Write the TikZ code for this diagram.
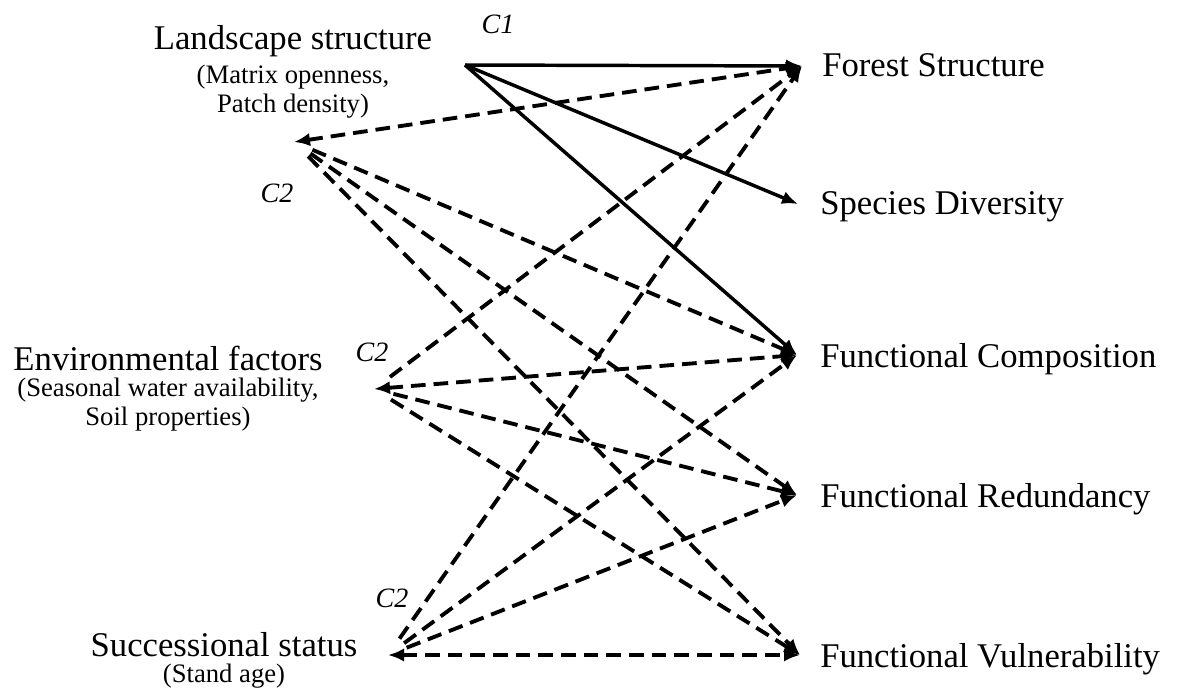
\documentclass[tikz,border=0pt]{standalone}
\usepackage{fontspec}
\setmainfont{Liberation Serif}
\usetikzlibrary{arrows.meta,positioning}
\tikzset{
  hd/.style={font=\fontsize{26}{30}\selectfont,inner sep=0pt},
  subtxt/.style={font=\fontsize{20}{22}\selectfont,align=center,inner sep=0pt},
  clbl/.style={font=\fontsize{21}{24}\selectfont\itshape,inner sep=0pt},
  eff/.style={-{Latex[length=12pt,width=10pt]},line width=2.6pt},
  dep/.style={-{Latex[length=12pt,width=10pt]},line width=2.9pt,dash pattern=on 11pt off 6pt},
  bdep/.style={{Latex[length=12pt,width=10pt]}-{Latex[length=12pt,width=10pt]},line width=2.9pt,dash pattern=on 11pt off 6pt},
}

\begin{document}
\begin{tikzpicture}[x=0.75pt,y=-0.75pt]
  \useasboundingbox (0,0) rectangle (1178,695);
  % arrow end points
  \coordinate (c1) at (465,65);
  \coordinate (ls) at (294,142);
  \coordinate (env) at (374,389);
  \coordinate (suc) at (388,655);
  \coordinate (fs) at (802,66);
  \coordinate (sd) at (798,204);
  \coordinate (fc) at (797,355);
  \coordinate (fr) at (797,495);
  \coordinate (fv) at (800,655);
  % predictors
  \node[hd,anchor=base] (lsL) at (293,50) {Landscape structure};
  \node[subtxt,below=5pt of lsL] (lsS) {(Matrix openness,\\Patch density)};
  \node[hd,anchor=base] (envL) at (168,370) {Environmental factors};
  \node[subtxt,below=5pt of envL] (envS) {(Seasonal water availability,\\Soil properties)};
  \node[hd,anchor=base] (sucL) at (224,656) {Successional status};
  \node[subtxt,below=5pt of sucL] (sucS) {(Stand age)};
  % responses
  \node[hd,anchor=base west] (fsL) at (822,77) {Forest Structure};
  \node[hd,anchor=base west] (sdL) at (820,215) {Species Diversity};
  \node[hd,anchor=base west] (fcL) at (820,367) {Functional Composition};
  \node[hd,anchor=base west] (frL) at (820,507) {Functional Redundancy};
  \node[hd,anchor=base west] (fvL) at (820,667) {Functional Vulnerability};
  % paths
  \node[clbl] (c1L) at (498,24) {C1};
  \node[clbl] (c2a) at (277,193) {C2};
  \node[clbl] (c2b) at (372,352) {C2};
  \node[clbl] (c2c) at (392,598) {C2};
  \foreach \t in {fs,sd,fc}{\draw[eff] (c1) -- (\t);}
  \draw[bdep] (ls) -- (fs);
  \foreach \t in {fc,fr,fv}{\draw[dep,shorten <=15pt] (ls) -- (\t);}
  \draw[bdep] (env) -- (fc);
  \foreach \t in {fs,fr,fv}{\draw[dep,shorten <=15pt] (env) -- (\t);}
  \draw[bdep] (suc) -- (fv);
  \foreach \t in {fs,fc,fr}{\draw[dep,shorten <=15pt] (suc) -- (\t);}
\end{tikzpicture}
\end{document}
